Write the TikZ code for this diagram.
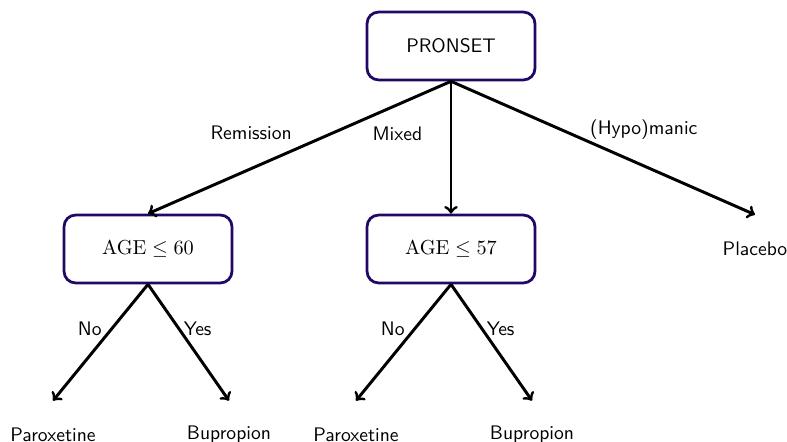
\documentclass[tikz,border=0pt]{standalone}
\usepackage{amsmath}
\renewcommand{\familydefault}{\sfdefault}
\definecolor{boxblue}{RGB}{34,8,102}
\tikzset{
	splitbox/.style={draw=boxblue, line width=1.5pt, rounded corners=0.22cm,
		minimum width=3.19cm, minimum height=1.29cm},
	leafbox/.style={minimum width=3.19cm, minimum height=1.29cm},
	branch/.style={->, line width=1.6pt}
}
\begin{document}
\begin{tikzpicture}[x=0.019cm, y=-0.019cm, every node/.style={font=\fontsize{10.6}{13}\selectfont}]
			\useasboundingbox (0,0) rectangle (787,442);
			\node[splitbox] (pronset) at (451,46) {PRONSET};
			\node[splitbox] (age60) at (148,249) {$\mathrm{AGE} \leq 60$};
			\node[splitbox] (age57) at (451,249) {$\mathrm{AGE} \leq 57$};
			\node[leafbox] (placebo) at (755,249) {Placebo};
			\node[leafbox] (parox1) at (53,435) {Paroxetine};
			\node[leafbox] (bupro1) at (229,435) {Bupropion};
			\node[leafbox] (parox2) at (356,435) {Paroxetine};
			\node[leafbox] (bupro2) at (532,435) {Bupropion};
			% first split
			\draw[branch] (pronset.south) -- node[pos=0.5, above left] {Remission} (age60.north);
			\draw[branch] (pronset.south) -- node[pos=0.4, left=0.4cm] {Mixed} (age57.north);
			\draw[branch] (pronset.south) -- node[pos=0.45, above right=-0.1cm] {(Hypo)manic} (placebo.north);
			% age splits
			\draw[branch] (age60.south) -- node[pos=0.38, left=0.05cm] {No} (parox1.north);
			\draw[branch] (age60.south) -- node[pos=0.38, right=-0.05cm] {Yes} (bupro1.north);
			\draw[branch] (age57.south) -- node[pos=0.38, left=0.05cm] {No} (parox2.north);
			\draw[branch] (age57.south) -- node[pos=0.38, right=-0.05cm] {Yes} (bupro2.north);
		\end{tikzpicture}
\end{document}
